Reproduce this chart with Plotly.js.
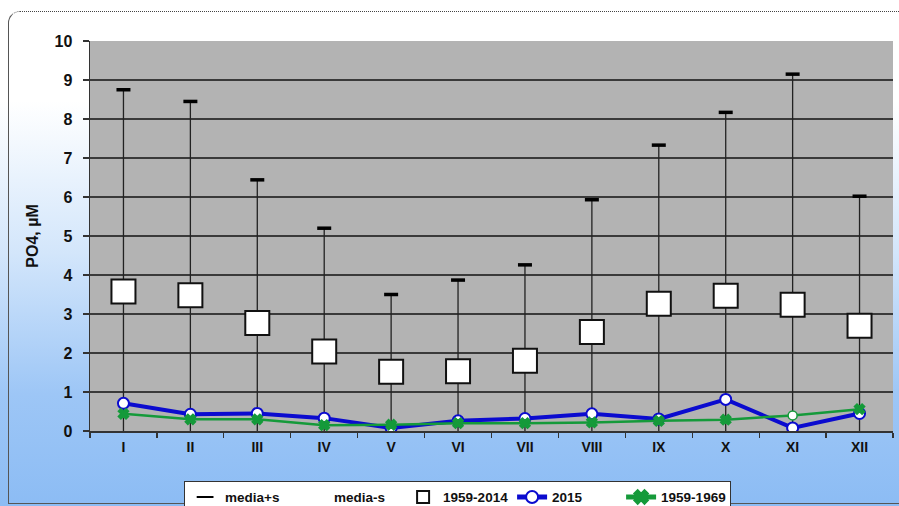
<!DOCTYPE html>
<html>
<head>
<meta charset="utf-8">
<script src="https://cdn.plot.ly/plotly-3.0.1.min.js"></script>
<style>
  html, body { margin: 0; padding: 0; width: 899px; height: 506px; overflow: hidden; }
  body { background: linear-gradient(to bottom, #ffffff 0%, #ffffff 20%, #d3e6fb 50%, #9dc6f6 78%, #8cbcf4 100%); position: relative; }
  #frame { position: absolute; left: 8px; top: 11px; width: 900px; height: 493px; border: 1px solid #555; border-top: 1px dotted #444; border-top-left-radius: 12px; box-sizing: border-box; }
  #chart { position: absolute; left: 0; top: 0; width: 899px; height: 506px; }
</style>
</head>
<body>
<div id="frame"></div>
<div id="chart"></div>
<script>
const months = ['I','II','III','IV','V','VI','VII','VIII','IX','X','XI','XII'];
const mediaPlus = [8.75, 8.45, 6.44, 5.20, 3.50, 3.87, 4.26, 5.93, 7.33, 8.17, 9.15, 6.02];
const mediaMinus = [-1.59, -1.49, -0.90, -1.12, -0.46, -0.81, -0.66, -0.85, -0.81, -1.23, -2.67, -0.62];
const mean5914 = [3.58, 3.48, 2.77, 2.04, 1.52, 1.53, 1.80, 2.54, 3.26, 3.47, 3.24, 2.70];
const y2015 = [0.71, 0.43, 0.45, 0.33, 0.08, 0.26, 0.32, 0.44, 0.31, 0.81, 0.08, 0.45];
const y5969 = [0.44, 0.30, 0.30, 0.15, 0.16, 0.20, 0.20, 0.22, 0.26, 0.29, 0.40, 0.56];

const symbols5969 = months.map((m, i) => i === 10 ? 'circle' : 'x');
const fills5969 = months.map((m, i) => i === 10 ? '#ffffff' : '#159a3a');

const boldFont = {family: 'Liberation Sans, Arial, sans-serif', weight: 'bold', color: '#111'};

const traces = [
  {
    name: 'media+s', x: months, y: mediaPlus, type: 'scatter', mode: 'markers',
    marker: {symbol: 'line-ew', size: 10, color: '#000', line: {width: 3.5, color: '#000'}},
    error_y: {type: 'data', symmetric: false, array: mediaPlus.map(() => 0),
              arrayminus: mediaPlus.map((v, i) => v - mediaMinus[i]),
              width: 0, thickness: 1.3, color: '#222'}
  },
  {
    name: 'media-s', x: months, y: mediaMinus, type: 'scatter', mode: 'markers',
    marker: {size: 8, color: 'rgba(0,0,0,0)', line: {width: 0}}
  },
  {
    name: '1959-2014', x: months, y: mean5914, type: 'scatter', mode: 'markers',
    marker: {symbol: 'square', size: 24, color: '#ffffff', line: {width: 2, color: '#111'}}
  },
  {
    name: '2015', x: months, y: y2015, type: 'scatter', mode: 'lines+markers',
    line: {color: '#0b0bcf', width: 4},
    marker: {symbol: 'circle', size: 11, color: '#ffffff', line: {width: 2, color: '#0b0bcf'}}
  },
  {
    name: '1959-1969', x: months, y: y5969, type: 'scatter', mode: 'lines+markers',
    line: {color: '#159a3a', width: 2.5},
    marker: {symbol: symbols5969, size: 9, color: fills5969, line: {width: 1.5, color: '#159a3a'}}
  }
];

const layout = {
  width: 899, height: 506,
  paper_bgcolor: 'rgba(0,0,0,0)',
  plot_bgcolor: '#b3b3b3',
  margin: {l: 90, r: 6, t: 41, b: 75},
  showlegend: true,
  legend: {
    orientation: 'h', xref: 'container', yref: 'container',
    x: 0.509, xanchor: 'center', y: 0.05, yanchor: 'top',
    bgcolor: '#ffffff', bordercolor: '#333', borderwidth: 1,
    itemsizing: 'constant', tracegroupgap: 0,
    entrywidth: 64, entrywidthmode: 'pixels',
    font: Object.assign({size: 13.5}, boldFont)
  },
  xaxis: {
    type: 'category', range: [-0.5, 11.5],
    showgrid: false, zeroline: false,
    showline: true, linecolor: '#333', linewidth: 1.5,
    ticks: 'outside', tickson: 'boundaries', ticklen: 5, tickcolor: '#333', tickwidth: 1.3,
    ticklabelstandoff: 3,
    tickfont: Object.assign({size: 14}, boldFont)
  },
  yaxis: {
    range: [0, 10], dtick: 1, tick0: 0,
    showgrid: true, gridcolor: '#3a3a3a', gridwidth: 1.4,
    zeroline: false, showline: true, linecolor: '#333', linewidth: 1.5,
    ticks: 'outside', ticklen: 6, tickcolor: '#333', tickwidth: 1.3,
    ticklabelstandoff: 7,
    tickfont: Object.assign({size: 16}, boldFont),
    title: {text: 'PO4, µM', font: Object.assign({size: 16}, boldFont), standoff: 12}
  },
  hovermode: false
};

Plotly.newPlot('chart', traces, layout, {displayModeBar: false, staticPlot: true});
</script>
</body>
</html>
